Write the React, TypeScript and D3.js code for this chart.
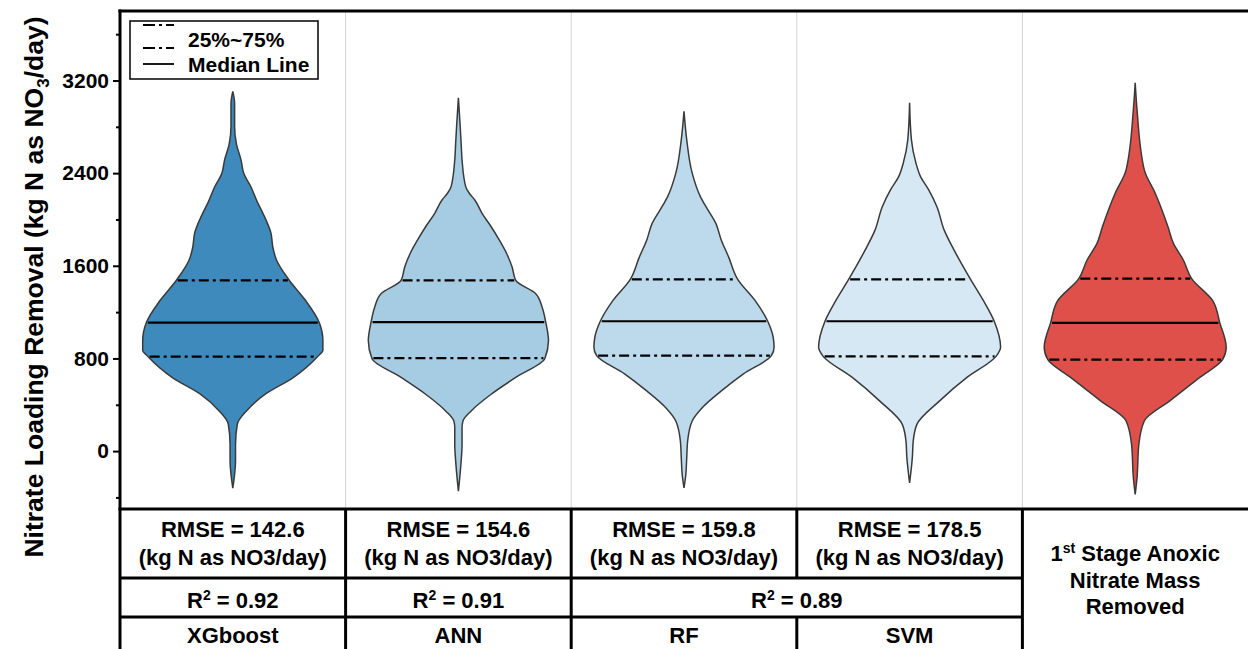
import * as d3 from "d3";
import React, { useRef, useEffect } from "react";

// categories along x
const models = ["XGboost", "ANN", "RF", "SVM", "Observed"];

// violin outlines: value levels (kg N/day) and relative density
const xgbLevels = [3105, 3000, 2800, 2650, 2515, 2400, 2280, 2150, 2055, 1880, 1760, 1650, 1475, 1300, 1110, 955, 870, 815, 633, 494, 347, 234, 60, -85, -200, -320];
const xgbDensity = [0, 0.02, 0.02, 0.04, 0.09, 0.12, 0.2, 0.27, 0.33, 0.42, 0.44, 0.48, 0.62, 0.8, 0.95, 0.99, 0.99, 0.93, 0.66, 0.36, 0.15, 0.05, 0.03, 0.03, 0.02, 0];

const annLevels = [3050, 2800, 2660, 2515, 2284, 2226, 2168, 2053, 1937, 1821, 1706, 1590, 1474, 1359, 1243, 1113, 954, 800, 636, 491, 347, 260, 202, 58, -87, -347];
const annDensity = [0, 0.02, 0.03, 0.04, 0.08, 0.12, 0.18, 0.26, 0.36, 0.45, 0.53, 0.59, 0.63, 0.85, 0.92, 0.96, 0.99, 0.95, 0.63, 0.36, 0.14, 0.05, 0.04, 0.04, 0.03, 0];

const rfLevels = [2934, 2688, 2400, 2197, 2125, 1966, 1821, 1677, 1483, 1301, 1121, 983, 896, 824, 665, 520, 375, 260, 87, -58, -202, -318];
const rfDensity = [0, 0.03, 0.09, 0.18, 0.23, 0.35, 0.41, 0.49, 0.59, 0.78, 0.92, 0.98, 0.99, 0.96, 0.65, 0.41, 0.2, 0.09, 0.04, 0.03, 0.02, 0];

const svmLevels = [3007, 2688, 2486, 2370, 2255, 2110, 1908, 1763, 1619, 1483, 1301, 1121, 896, 818, 636, 434, 231, 87, -58, -275];
const svmDensity = [0, 0.02, 0.07, 0.12, 0.21, 0.3, 0.38, 0.47, 0.57, 0.67, 0.81, 0.93, 1.0, 0.95, 0.63, 0.33, 0.08, 0.04, 0.03, 0];

const obsLevels = [3180, 2949, 2428, 2226, 1937, 1793, 1648, 1489, 1301, 1107, 896, 789, 636, 434, 260, 58, -231, -375];
const obsDensity = [0, 0.02, 0.1, 0.22, 0.36, 0.42, 0.53, 0.62, 0.85, 0.93, 1.0, 0.96, 0.71, 0.38, 0.1, 0.04, 0.02, 0];

// quartiles and medians
const q1 = [815, 802, 824, 818, 789];
const medians = [1110, 1113, 1121, 1121, 1107];
const q3 = [1474, 1474, 1483, 1483, 1489];

// table
const rmse = [142.6, 154.6, 159.8, 178.5];
const r2 = [0.92, 0.91, 0.89];
const r2Span = [1, 1, 2];

const majorTicks = [0, 800, 1600, 2400, 3200];
const minorTicks = [-400, 400, 1200, 2000, 2800, 3600];

const fills = ["#3e8abd", "#a6cce4", "#bddaec", "#d6e8f3", "#e0504a"];
const font = "'Liberation Sans', Arial, Helvetica, sans-serif";

const App = () => {
  const ref = useRef(null);
  const W = 1248;
  const H = 649;
  const left = 120;
  const top = 11;
  const plotBottom = 509;

  useEffect(() => {
    const svg = d3.select(ref.current);
    svg.selectAll("*").remove();

    const x = d3.scaleBand().domain(models).range([left, W]);
    const y = d3.scaleLinear().domain([-500, 3800]).range([plotBottom, top]);
    const w = d3.scaleLinear().domain([0, 1]).range([0, 91]);

    const profiles = [
      [xgbLevels, xgbDensity],
      [annLevels, annDensity],
      [rfLevels, rfDensity],
      [svmLevels, svmDensity],
      [obsLevels, obsDensity],
    ];

    // light column separators
    svg.append("g")
      .selectAll("line")
      .data(models.slice(1))
      .join("line")
      .attr("x1", (d) => x(d))
      .attr("x2", (d) => x(d))
      .attr("y1", top)
      .attr("y2", plotBottom)
      .attr("stroke", "#d3d3d3")
      .attr("stroke-width", 1);

    // violins
    profiles.forEach(([levels, density], i) => {
      const cx = x(models[i]) + x.bandwidth() / 2;
      const pts = levels.map((v, k) => ({ v, d: density[k] }));
      const area = d3.area()
        .curve(d3.curveMonotoneY)
        .y((d) => y(d.v))
        .x0((d) => cx - w(d.d))
        .x1((d) => cx + w(d.d));

      svg.append("path")
        .attr("d", area(pts))
        .attr("fill", fills[i])
        .attr("stroke", "#3a3a3a")
        .attr("stroke-width", 1.5);

      const dens = d3.scaleLinear().domain(levels).range(density);
      const lines = [
        { v: q3[i], dash: "10 4 3 4" },
        { v: medians[i], dash: null },
        { v: q1[i], dash: "10 4 3 4" },
      ];
      lines.forEach((l) => {
        const hw = w(dens(l.v)) - 1.5;
        svg.append("line")
          .attr("x1", cx - hw)
          .attr("x2", cx + hw)
          .attr("y1", y(l.v))
          .attr("y2", y(l.v))
          .attr("stroke", "#000")
          .attr("stroke-width", 2.2)
          .attr("stroke-dasharray", l.dash);
      });
    });

    // y axis
    const yAxis = svg.append("g")
      .attr("transform", `translate(${left},0)`)
      .call(d3.axisLeft(y).tickValues(majorTicks).tickFormat(d3.format("d")).tickSize(7).tickPadding(4));
    yAxis.select(".domain").remove();
    yAxis.selectAll("line").attr("stroke-width", 2);
    yAxis.selectAll("text")
      .attr("font-size", 21)
      .attr("font-weight", "bold")
      .attr("font-family", font)
      .attr("fill", "#000");

    const minor = svg.append("g")
      .attr("transform", `translate(${left},0)`)
      .call(d3.axisLeft(y).tickValues(minorTicks).tickSize(4).tickFormat(() => ""));
    minor.select(".domain").remove();
    minor.selectAll("line").attr("stroke-width", 2);

    // frame
    svg.append("line").attr("x1", left).attr("x2", left).attr("y1", top - 1.5).attr("y2", H)
      .attr("stroke", "#000").attr("stroke-width", 3);
    svg.append("line").attr("x1", left - 1.5).attr("x2", W).attr("y1", top).attr("y2", top)
      .attr("stroke", "#000").attr("stroke-width", 3);

    // y title
    const yt = svg.append("text")
      .attr("transform", "translate(43,287) rotate(-90)")
      .attr("text-anchor", "middle")
      .attr("font-family", font)
      .attr("font-weight", "bold")
      .attr("font-size", 26.5);
    yt.append("tspan").text("Nitrate Loading Removal (kg N as NO");
    yt.append("tspan").attr("font-size", 17).attr("dy", 6).text("3");
    yt.append("tspan").attr("dy", -6).text("/day)");

    // legend
    const lg = svg.append("g");
    lg.append("rect").attr("x", 130).attr("y", 21).attr("width", 188).attr("height", 58)
      .attr("fill", "#fff").attr("stroke", "#000").attr("stroke-width", 1.5);
    [25, 48].forEach((ly) => {
      lg.append("line").attr("x1", 143).attr("x2", 174).attr("y1", ly).attr("y2", ly)
        .attr("stroke", "#000").attr("stroke-width", 1.8).attr("stroke-dasharray", "12 4 3 4");
    });
    lg.append("line").attr("x1", 143).attr("x2", 174).attr("y1", 64).attr("y2", 64)
      .attr("stroke", "#000").attr("stroke-width", 1.8);
    lg.append("text").attr("x", 188).attr("y", 47).text("25%~75%");
    lg.append("text").attr("x", 188).attr("y", 72).text("Median Line");
    lg.selectAll("text").attr("font-family", font).attr("font-weight", "bold").attr("font-size", 21);

    // table grid
    const tb = svg.append("g")
      .attr("font-family", font)
      .attr("font-weight", "bold")
      .attr("font-size", 22);
    const xObs = x("Observed");
    const rowA = 578;
    const rowB = 617;
    const hl = (yy, x1, x2) =>
      tb.append("line").attr("x1", x1).attr("x2", x2).attr("y1", yy).attr("y2", yy)
        .attr("stroke", "#000").attr("stroke-width", 3);
    const vl = (xx, y1, y2) =>
      tb.append("line").attr("x1", xx).attr("x2", xx).attr("y1", y1).attr("y2", y2)
        .attr("stroke", "#000").attr("stroke-width", 3);
    hl(plotBottom, left - 1.5, W);
    hl(rowA, left, xObs);
    hl(rowB, left, xObs);
    vl(x("ANN"), plotBottom, H);
    vl(x("RF"), plotBottom, H);
    vl(x("SVM"), plotBottom, rowA);
    vl(x("SVM"), rowB, H);
    vl(xObs, plotBottom, H);

    const cell = (cx, yy) =>
      tb.append("text").attr("x", cx).attr("y", yy).attr("text-anchor", "middle");

    rmse.forEach((r, i) => {
      const cx = x(models[i]) + x.bandwidth() / 2;
      cell(cx, 537).text(`RMSE = ${r.toFixed(1)}`);
      cell(cx, 565).text("(kg N as NO3/day)");
      cell(cx, 643).text(models[i]);
    });

    let col = 0;
    r2.forEach((r, i) => {
      const x0 = x(models[col]);
      const x1 = x(models[col + r2Span[i] - 1]) + x.bandwidth();
      const t = cell((x0 + x1) / 2, 608);
      t.append("tspan").text("R");
      t.append("tspan").attr("font-size", 14).attr("dy", -8).text("2");
      t.append("tspan").attr("dy", 8).text(` = ${r.toFixed(2)}`);
      col += r2Span[i];
    });

    const ocx = xObs + x.bandwidth() / 2;
    const t1 = cell(ocx, 561);
    t1.append("tspan").text("1");
    t1.append("tspan").attr("font-size", 14).attr("dy", -8).text("st");
    t1.append("tspan").attr("dy", 8).text(" Stage Anoxic");
    cell(ocx, 588).text("Nitrate Mass");
    cell(ocx, 614).text("Removed");
  }, []);

  return (
    <svg
      ref={ref}
      width={W}
      height={H}
      style={{ position: "absolute", left: 0, top: 0, background: "#fff" }}
    />
  );
};

export default App;
